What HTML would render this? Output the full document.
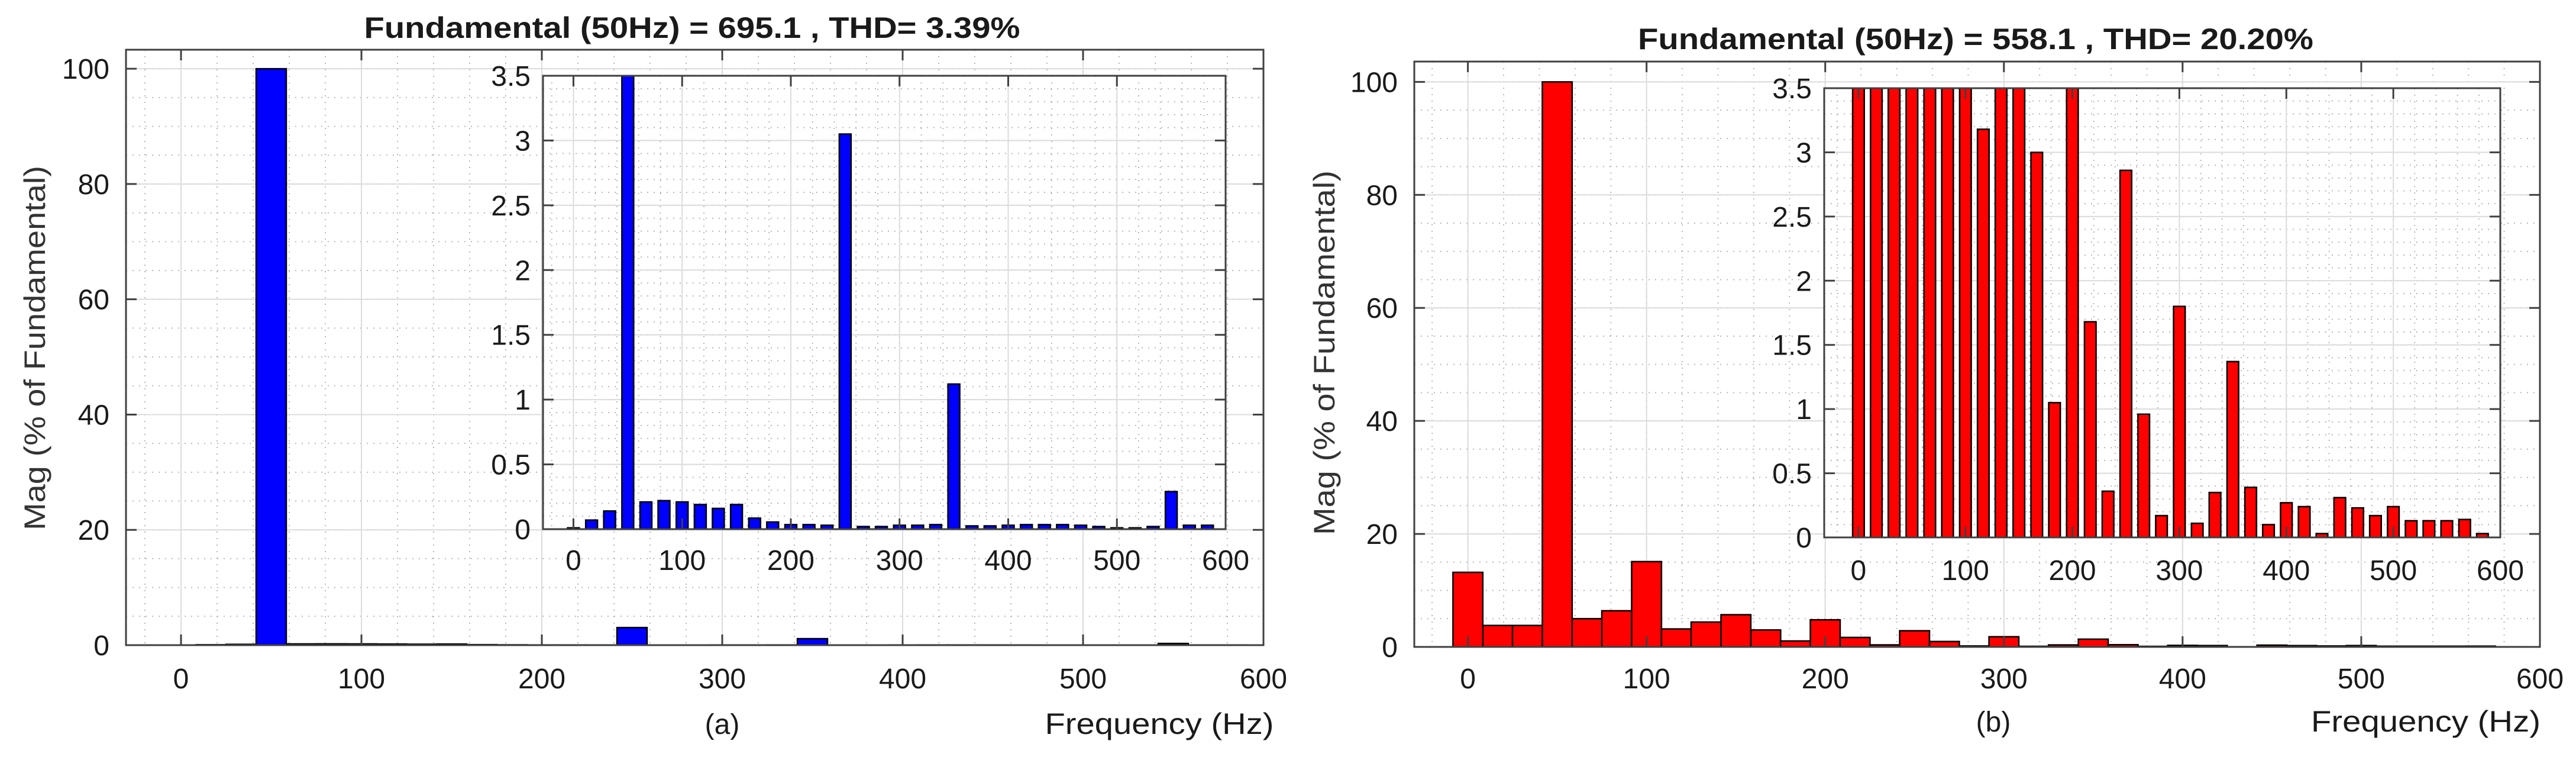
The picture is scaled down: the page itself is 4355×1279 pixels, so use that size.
<!DOCTYPE html>
<html><head><meta charset="utf-8">
<style>
html,body{margin:0;padding:0;background:#fff;}
svg{display:block;font-family:"Liberation Sans",Arial,sans-serif;}
</style></head>
<body>
<svg id="fig" xmlns="http://www.w3.org/2000/svg" width="4355" height="1279" viewBox="0 0 4355 1279">
<rect x="0" y="0" width="4355" height="1279" fill="#fff"/>
</svg>
<script>
// ---- data ----
const harmonicFreqs = [0,16.7,33.3,50,66.7,83.3,100,116.7,133.3,150,166.7,183.3,200,216.7,233.3,250,266.7,283.3,300,316.7,333.3,350,366.7,383.3,400,416.7,433.3,450,466.7,483.3,500,516.7,533.3,550,566.7,583.3];
const magA = [0.01,0.07,0.14,100,0.21,0.22,0.21,0.19,0.16,0.19,0.085,0.055,0.035,0.035,0.03,3.05,0.02,0.02,0.03,0.03,0.035,1.12,0.025,0.025,0.03,0.035,0.035,0.035,0.03,0.02,0.01,0.01,0.02,0.29,0.03,0.03];
const magB = [13.2,3.8,3.8,100,5.0,6.4,15.1,3.18,4.4,5.7,3.0,1.05,4.8,1.68,0.36,2.86,0.96,0.17,1.8,0.11,0.35,1.37,0.39,0.1,0.27,0.24,0.03,0.31,0.23,0.17,0.24,0.13,0.13,0.13,0.14,0.03];
const xTicks = [0,100,200,300,400,500,600];
const mainYTicks = [0,20,40,60,80,100];
const insetYTicks = [0,0.5,1,1.5,2,2.5,3,3.5];
const insetYTickLabels = ["0","0.5","1","1.5","2","2.5","3","3.5"];
const titleA = "Fundamental (50Hz) = 695.1 , THD= 3.39%";
const titleB = "Fundamental (50Hz) = 558.1 , THD= 20.20%";

const NS = "http://www.w3.org/2000/svg";
const svg = document.getElementById('fig');
function el(tag, attrs, parent){
  const e = document.createElementNS(NS, tag);
  for (const k in attrs) e.setAttribute(k, attrs[k]);
  (parent||svg).appendChild(e);
  return e;
}
let clipId = 0;
function makeAxes(cfg){
  const g = el('g', {});
  
  
  const sx = v => cfg.x0 + (v - cfg.xmin) / (cfg.xmax - cfg.xmin) * (cfg.x1 - cfg.x0);
  const sy = v => cfg.y0 - (v - cfg.ymin) / (cfg.ymax - cfg.ymin) * (cfg.y0 - cfg.y1);
  el('rect', {x:cfg.x0, y:cfg.y1, width:cfg.x1-cfg.x0, height:cfg.y0-cfg.y1, fill:'#fff'}, g);
  // minor grid
  const grid = el('g', {}, g);
  
  
  for (let v = Math.ceil(cfg.xmin / cfg.xMinor) * cfg.xMinor; v <= cfg.xmax + 1e-9; v += cfg.xMinor) {
    el('line', {x1:sx(v), x2:sx(v), y1:cfg.y1, y2:cfg.y0, stroke:'#b8b8b8', 'stroke-width':2, 'stroke-dasharray':'2 9'}, grid);
  }
  for (let v = cfg.ymin; v <= cfg.ymax + 1e-9; v += cfg.yMinor) {
    el('line', {x1:cfg.x0, x2:cfg.x1, y1:sy(v), y2:sy(v), stroke:'#b8b8b8', 'stroke-width':2, 'stroke-dasharray':'2 9'}, grid);
  }
  xTicks.forEach(v => el('line', {x1:sx(v), x2:sx(v), y1:cfg.y1, y2:cfg.y0, stroke:'#dcdcdc', 'stroke-width':2}, grid));
  cfg.yTicks.forEach(v => el('line', {x1:cfg.x0, x2:cfg.x1, y1:sy(v), y2:sy(v), stroke:'#dcdcdc', 'stroke-width':2}, grid));
  // bars
  clipId++;
  const cp = el('clipPath', {id:'clip'+clipId}, g);
  el('rect', {x:cfg.x0, y:cfg.y1, width:cfg.x1-cfg.x0, height:cfg.y0-cfg.y1}, cp);
  const bars = el('g', {'clip-path':'url(#clip'+clipId+')'}, g);
  
  
  const step = harmonicFreqs[1] - harmonicFreqs[0];
  harmonicFreqs.forEach((f, i) => {
    const w = Math.abs(sx(step) - sx(0)) * cfg.barW;
    const top = sy(Math.min(cfg.values[i], cfg.ymax * 1.2));
    const r = el('rect', {x:sx(f) - w/2, y:top, width:w, height:sy(0)-top, fill:cfg.color, stroke:'#000', 'stroke-width':2.5}, bars);
    
    
  });
  // box
  el('rect', {x:cfg.x0, y:cfg.y1, width:cfg.x1-cfg.x0, height:cfg.y0-cfg.y1, fill:'none', stroke:'#404040', 'stroke-width':3}, g);
  // ticks & labels
  const tl = 18;
  xTicks.forEach(v => {
    el('line', {x1:sx(v), x2:sx(v), y1:cfg.y0, y2:cfg.y0-tl, stroke:'#404040', 'stroke-width':3}, g);
    el('line', {x1:sx(v), x2:sx(v), y1:cfg.y1, y2:cfg.y1+tl, stroke:'#404040', 'stroke-width':3}, g);
    const t = el('text', {x:sx(v), y:cfg.y0 + cfg.xLabOff, 'text-anchor':'middle', 'font-size':48, fill:'#1a1a1a'}, g);
    t.textContent = String(v);
    
    
  });
  cfg.yTicks.forEach((v, i) => {
    el('line', {x1:cfg.x0, x2:cfg.x0+tl, y1:sy(v), y2:sy(v), stroke:'#404040', 'stroke-width':3}, g);
    el('line', {x1:cfg.x1, x2:cfg.x1-tl, y1:sy(v), y2:sy(v), stroke:'#404040', 'stroke-width':3}, g);
    const t = el('text', {x:cfg.x0 - cfg.yLabOff, y:sy(v) + 17, 'text-anchor':'end', 'font-size':48, fill:'#1a1a1a'}, g);
    t.textContent = cfg.yLabels[i];
    
    
  });
  return g;
}
function txt(x, y, s, attrs, name){
  const t = el('text', Object.assign({x:x, y:y, 'text-anchor':'middle', fill:'#1a1a1a'}, attrs));
  t.textContent = s;
  
  
  return t;
}
const mainYLabels = mainYTicks.map(String);

// ---- panel (a) ----
makeAxes({name:'main-axes-a', x0:213, x1:2136, y0:1090, y1:84, xmin:-30.5, xmax:600, ymin:0, ymax:103.3,
  xMinor:20, yMinor:5, yTicks:mainYTicks, yLabels:mainYLabels, values:magA, color:'#0000ff', barW:1.0, xLabOff:73, yLabOff:28});
makeAxes({name:'inset-axes-a', x0:918, x1:2072, y0:894, y1:128, xmin:-28, xmax:600, ymin:0, ymax:3.5,
  xMinor:20, yMinor:0.1, yTicks:insetYTicks, yLabels:insetYTickLabels, values:magA, color:'#0000ff', barW:0.65, xLabOff:69, yLabOff:21});
txt(1170, 64, titleA, {'font-size':50, 'font-weight':'bold', textLength:1109, lengthAdjust:'spacingAndGlyphs'}, 'chart-title-a');
const ylA = txt(0, 0, 'Mag (% of Fundamental)', {'font-size':50, fill:'#333', transform:'translate(76,588) rotate(-90)', textLength:616, lengthAdjust:'spacingAndGlyphs'}, 'y-axis-title-a');
txt(1221, 1240, '(a)', {'font-size':48}, 'panel-label-a');
txt(1960, 1240, 'Frequency (Hz)', {'font-size':50, textLength:387, lengthAdjust:'spacingAndGlyphs'}, 'x-axis-title-a');

// ---- panel (b) ----
makeAxes({name:'main-axes-b', x0:2391, x1:4294, y0:1093, y1:104, xmin:-30, xmax:600, ymin:0, ymax:103.6,
  xMinor:20, yMinor:5, yTicks:mainYTicks, yLabels:mainYLabels, values:magB, color:'#ff0000', barW:1.0, xLabOff:70, yLabOff:28});
makeAxes({name:'inset-axes-b', x0:3084, x1:4227, y0:908, y1:149, xmin:-32, xmax:600, ymin:0, ymax:3.5,
  xMinor:20, yMinor:0.1, yTicks:insetYTicks, yLabels:insetYTickLabels, values:magB, color:'#ff0000', barW:0.65, xLabOff:72, yLabOff:21});
txt(3340, 83, titleB, {'font-size':50, 'font-weight':'bold', textLength:1142, lengthAdjust:'spacingAndGlyphs'}, 'chart-title-b');
txt(0, 0, 'Mag (% of Fundamental)', {'font-size':50, fill:'#333', transform:'translate(2256,596) rotate(-90)', textLength:616, lengthAdjust:'spacingAndGlyphs'}, 'y-axis-title-b');
txt(3370, 1236, '(b)', {'font-size':48}, 'panel-label-b');
txt(4101, 1236, 'Frequency (Hz)', {'font-size':50, textLength:388, lengthAdjust:'spacingAndGlyphs'}, 'x-axis-title-b');
</script>
</body></html>
